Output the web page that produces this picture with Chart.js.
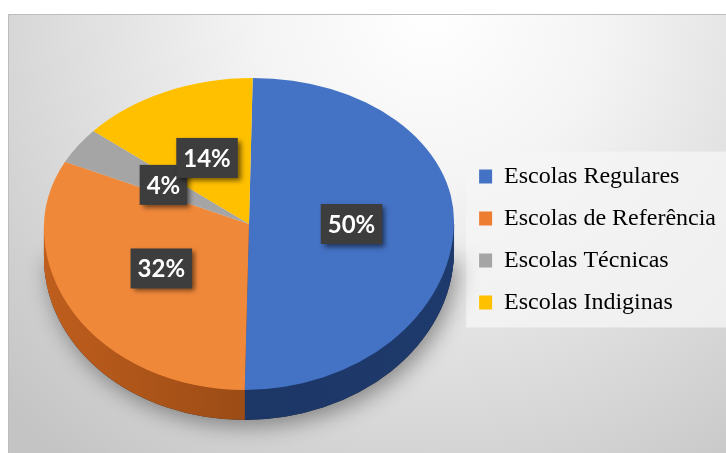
<!DOCTYPE html>
<html>
<head>
<meta charset="utf-8">
<script src="https://cdn.jsdelivr.net/npm/chart.js@4.4.1/dist/chart.umd.min.js"></script>
<style>
  html, body { margin: 0; padding: 0; background: #fff; }
  #wrap { width: 726px; height: 453px; }
</style>
</head>
<body>
<div id="wrap"><canvas id="chart" width="726" height="453"></canvas></div>
<script>
// data
const categories = ['Escolas Regulares', 'Escolas de Referência', 'Escolas Técnicas', 'Escolas Indiginas'];
const shares = [50, 32, 4, 14];
const topColors = ['#4472C4', '#F0883A', '#A5A5A5', '#FFC000'];
const legendColors = ['#4472C4', '#ED7D31', '#A5A5A5', '#FFC000'];
// side of the 3D pie: [left, right] shade
const sideColors = [['#1B3360', '#1E3A6C'], ['#BF5E1D', '#78390E'], ['#707070', '#5C5C5C'], ['#A87E00', '#8C6800']];

// how the flat Chart.js pie is laid onto the tilted disc
const view = { cx: 249, cy: 224, rx: 205, ryFar: 146, ryNear: 166, skewFar: -3.7, skewNear: -4.3, depth: 30 };

function applyView(ctx, p, x0, y0, R, near, dy) {
  const ry = near ? view.ryNear : view.ryFar;
  const kx = near ? view.skewNear : view.skewFar;
  const a = view.rx / R, c = kx / R, d = ry / R;
  const e = view.cx - a * x0 - c * y0;
  const f = view.cy + dy - d * y0;
  ctx.setTransform(a * p, 0, c * p, d * p, e * p, f * p);
}

function project(x0, y0, R, X, Y) {
  const u = (X - x0) / R, v = (Y - y0) / R;
  const near = v >= 0;
  const ry = near ? view.ryNear : view.ryFar;
  const kx = near ? view.skewNear : view.skewFar;
  return { x: view.cx + view.rx * u + kx * v, y: view.cy + ry * v };
}

const pie3d = {
  id: 'pie3d',
  beforeDraw(chart) {
    const ctx = chart.ctx;
    const w = chart.width, h = chart.height;
    ctx.save();
    ctx.fillStyle = '#ffffff';
    ctx.fillRect(0, 0, w, h);
    // panel with soft radial light
    const g = ctx.createRadialGradient(430, 10, 0, 430, 10, 580);
    g.addColorStop(0, '#ffffff');
    g.addColorStop(0.3, '#f4f4f4');
    g.addColorStop(1, '#c4c4c4');
    ctx.fillStyle = g;
    ctx.fillRect(8, 14, w - 8, h - 14);
    ctx.strokeStyle = '#bdbdbd';
    ctx.lineWidth = 1;
    ctx.beginPath();
    ctx.moveTo(8.5, h);
    ctx.lineTo(8.5, 14.5);
    ctx.lineTo(w, 14.5);
    ctx.stroke();
    // legend box around the items
    const boxes = chart.legend.legendHitBoxes;
    if (boxes && boxes.length) {
      const first = boxes[0], last = boxes[boxes.length - 1];
      const top = first.top - 13;
      const bottom = last.top + last.height + 13;
      ctx.fillStyle = 'rgba(245,245,245,0.8)';
      ctx.fillRect(first.left - 13, top, w - first.left + 13, bottom - top);
    }
    ctx.restore();
  },
  beforeDatasetsDraw(chart) {
    const ctx = chart.ctx;
    const p = chart.currentDevicePixelRatio;
    const meta = chart.getDatasetMeta(0);
    const arcs = meta.data;
    const x0 = arcs[0].x, y0 = arcs[0].y, R = arcs[0].outerRadius;

    // drop shadow under the disc
    ctx.save();
    ctx.beginPath();
    ctx.rect(0, view.cy - 20, chart.width, chart.height);
    ctx.clip();
    applyView(ctx, p, x0, y0, R, true, view.depth);
    ctx.shadowColor = 'rgba(0,0,0,0.4)';
    ctx.shadowBlur = 22;
    ctx.shadowOffsetX = 4;
    ctx.shadowOffsetY = 6;
    ctx.fillStyle = '#2a2a2a';
    ctx.beginPath();
    ctx.arc(x0, y0, R, 0, Math.PI);
    ctx.fill();
    ctx.restore();

    // side walls, stacked layers (only the near half can be seen)
    for (let k = view.depth; k >= 1; k--) {
      arcs.forEach((arc, i) => {
        ctx.save();
        ctx.beginPath();
        ctx.rect(0, view.cy, chart.width, chart.height);
        ctx.clip();
        applyView(ctx, p, x0, y0, R, true, k);
        const sg = ctx.createLinearGradient(x0 - R, 0, x0 + R, 0);
        sg.addColorStop(0, sideColors[i][0]);
        sg.addColorStop(1, sideColors[i][1]);
        ctx.fillStyle = sg;
        ctx.beginPath();
        ctx.moveTo(x0, y0);
        ctx.arc(x0, y0, R, arc.startAngle, arc.endAngle);
        ctx.closePath();
        ctx.fill();
        ctx.restore();
      });
    }

    // top face: far half and near half
    [false, true].forEach(near => {
      ctx.save();
      ctx.beginPath();
      if (near) ctx.rect(0, view.cy, chart.width, chart.height);
      else ctx.rect(0, 0, chart.width, view.cy + 1);
      ctx.clip();
      applyView(ctx, p, x0, y0, R, near, 0);
      meta.controller.draw();
      ctx.restore();
    });

    // data labels
    const total = shares.reduce((s, v) => s + v, 0);
    ctx.save();
    ctx.font = 'bold 24px Lato';
    ctx.textAlign = 'center';
    ctx.textBaseline = 'middle';
    arcs.forEach((arc, i) => {
      const mid = (arc.startAngle + arc.endAngle) / 2;
      const pt = project(x0, y0, R, x0 + 0.5 * R * Math.cos(mid), y0 + 0.5 * R * Math.sin(mid));
      const txt = Math.round(shares[i] / total * 100) + '%';
      const bw = ctx.measureText(txt).width + 14, bh = 40;
      ctx.shadowColor = 'rgba(0,0,0,0.55)';
      ctx.shadowBlur = 5;
      ctx.shadowOffsetX = 3;
      ctx.shadowOffsetY = 3;
      ctx.fillStyle = '#3d3d3d';
      ctx.fillRect(pt.x - bw / 2, pt.y - bh / 2, bw, bh);
      ctx.shadowColor = 'transparent';
      ctx.fillStyle = '#ffffff';
      ctx.fillText(txt, pt.x, pt.y + 1);
    });
    ctx.restore();

    return false;
  }
};

new Chart(document.getElementById('chart'), {
  type: 'pie',
  data: {
    labels: categories,
    datasets: [{
      data: shares,
      backgroundColor: topColors,
      borderWidth: 0
    }]
  },
  options: {
    responsive: false,
    animation: false,
    layout: { padding: { top: 26, right: 0, bottom: 0, left: 20 } },
    plugins: {
      legend: {
        position: 'right',
        labels: {
          color: '#3a3a3a',
          font: { family: 'Liberation Serif', size: 24 },
          boxWidth: 13,
          boxHeight: 14,
          padding: 18,
          generateLabels(chart) {
            return categories.map((c, i) => ({
              text: c,
              fillStyle: legendColors[i],
              strokeStyle: legendColors[i],
              lineWidth: 0,
              index: i,
              hidden: false
            }));
          }
        }
      },
      tooltip: { enabled: false }
    }
  },
  plugins: [pie3d]
});
</script>
</body>
</html>
